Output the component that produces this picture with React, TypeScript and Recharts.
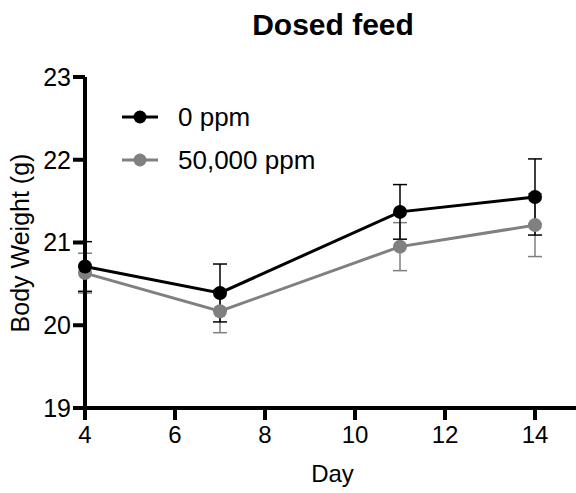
import React from 'react'
import { LineChart, Line, XAxis, YAxis, ErrorBar } from 'recharts'

const days = [4, 7, 11, 14]
const ppm0 = [20.71, 20.39, 21.37, 21.55]
const ppm0Err = [0.3, 0.35, 0.33, 0.46]
const ppm50k = [20.63, 20.17, 20.95, 21.21]
const ppm50kErr = [0.24, 0.26, 0.29, 0.38]
const xTicks = [4, 6, 8, 10, 12, 14]
const yTicks = [19, 20, 21, 22, 23]
const seriesNames = ['0 ppm', '50,000 ppm']
const seriesColors = ['#000000', '#808080']

const FONT = '"Liberation Sans", Arial, Helvetica, sans-serif'

const rows = days.map((d, i) => ({
    day: d,
    p0: ppm0[i],
    e0: ppm0Err[i],
    p50: ppm50k[i],
    e50: ppm50kErr[i],
}))

// middle of the plot area (top 77, height 331)
function YTitle() {
    const cy = 243
    return (
        <text x={29} y={cy} transform={`rotate(-90, 29, ${cy})`} textAnchor="middle" fontSize={25} fill="#000" fontFamily={FONT}>
            Body Weight (g)
        </text>
    )
}

function XTitle(props: any) {
    const vb = props.viewBox || { x: 85, width: 495 }
    return (
        <text x={vb.x + vb.width / 2} y={482} textAnchor="middle" fontSize={24} fill="#000" fontFamily={FONT}>
            Day
        </text>
    )
}

function LegendRow({ name, color, cy }: { name: string; color: string; cy: number }) {
    return (
        <div style={{ position: 'absolute', left: 120, top: cy - 20, height: 40, display: 'flex', alignItems: 'center' }}>
            <svg width={42} height={40}>
                <line x1={2} x2={38} y1={20} y2={20} stroke={color} strokeWidth={3} />
                <circle cx={20} cy={20} r={6.5} fill={color} />
            </svg>
            <span style={{ marginLeft: 16, fontSize: 26, color: '#000', whiteSpace: 'nowrap' }}>{name}</span>
        </div>
    )
}

export default function App() {
    return (
        <div style={{ position: 'relative', width: 576, height: 493, overflow: 'hidden', fontFamily: FONT, background: '#fff' }}>
            <style>{'body{margin:0}'}</style>
            <div style={{ position: 'absolute', left: 183, width: 300, top: 10, textAlign: 'center', fontSize: 30, fontWeight: 'bold', lineHeight: '30px' }}>
                Dosed feed
            </div>
            <LineChart width={600} height={493} data={rows} margin={{ top: 77, right: 20, bottom: 0, left: 25 }}>
                <XAxis
                    dataKey="day"
                    type="number"
                    domain={[4, 15]}
                    ticks={xTicks}
                    height={85}
                    tickSize={12}
                    tickMargin={6}
                    axisLine={{ stroke: '#000', strokeWidth: 4 }}
                    tickLine={{ stroke: '#000', strokeWidth: 4 }}
                    tick={{ fontSize: 24, fill: '#000', fontFamily: FONT }}
                    label={<XTitle />}
                />
                <YAxis
                    type="number"
                    domain={[19, 23]}
                    ticks={yTicks}
                    width={60}
                    tickSize={12}
                    tickMargin={2}
                    axisLine={{ stroke: '#000', strokeWidth: 4 }}
                    tickLine={{ stroke: '#000', strokeWidth: 4 }}
                    tick={{ fontSize: 25, fill: '#000', fontFamily: FONT }}
                    label={<YTitle />}
                />
                <Line
                    dataKey="p50"
                    stroke={seriesColors[1]}
                    strokeWidth={3}
                    dot={{ r: 7, fill: seriesColors[1], stroke: seriesColors[1], strokeWidth: 0 }}
                    isAnimationActive={false}
                >
                    <ErrorBar dataKey="e50" direction="y" width={7} strokeWidth={1.5} stroke={seriesColors[1]} />
                </Line>
                <Line
                    dataKey="p0"
                    stroke={seriesColors[0]}
                    strokeWidth={3}
                    dot={{ r: 7, fill: seriesColors[0], stroke: seriesColors[0], strokeWidth: 0 }}
                    isAnimationActive={false}
                >
                    <ErrorBar dataKey="e0" direction="y" width={7} strokeWidth={1.5} stroke={seriesColors[0]} />
                </Line>
            </LineChart>
            <LegendRow name={seriesNames[0]} color={seriesColors[0]} cy={117} />
            <LegendRow name={seriesNames[1]} color={seriesColors[1]} cy={160} />
        </div>
    )
}
